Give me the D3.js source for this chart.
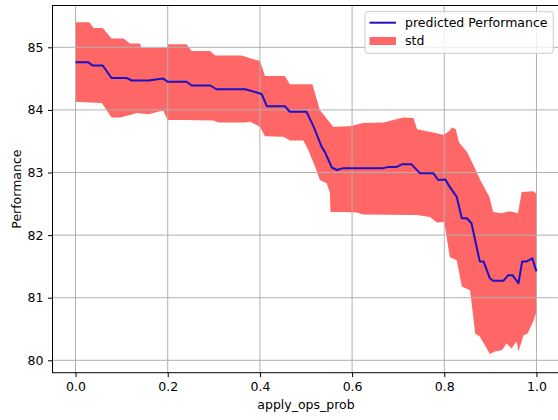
<!DOCTYPE html>
<html lang="en">
<head>
<meta charset="UTF-8">
<title>Performance vs apply_ops_prob</title>
<style>
  body { margin: 0; background: #fff; }
  text { font-family: "DejaVu Sans", sans-serif; font-size: 12.5px; fill: #000; }
  .domain { display: none; }
</style>
</head>
<body>
<svg id="chart" width="558" height="420"></svg>
<script src="https://cdn.jsdelivr.net/npm/d3@7"></script>
<script>

// predicted mean
let meanX = [0.000, 0.028, 0.037, 0.059, 0.078, 0.111, 0.122, 0.158, 0.190, 0.200, 0.241, 0.252, 0.292,
             0.306, 0.368, 0.397, 0.404, 0.415, 0.454, 0.465, 0.501, 0.516, 0.534, 0.541, 0.556, 0.567,
             0.581, 0.668, 0.679, 0.697, 0.708, 0.729, 0.747, 0.776, 0.787, 0.802, 0.812, 0.827, 0.838,
             0.849, 0.859, 0.877, 0.885, 0.899, 0.906, 0.928, 0.939, 0.948, 0.961, 0.969, 0.979, 0.991, 1.000]
let meanY = [84.76, 84.76, 84.71, 84.71, 84.51, 84.51, 84.47, 84.47, 84.50, 84.45, 84.45, 84.39, 84.39,
             84.33, 84.33, 84.27, 84.25, 84.06, 84.06, 83.97, 83.97, 83.74, 83.41, 83.33, 83.08, 83.04,
             83.07, 83.07, 83.09, 83.09, 83.13, 83.13, 82.99, 82.99, 82.88, 82.89, 82.77, 82.61, 82.27,
             82.27, 82.19, 81.58, 81.58, 81.31, 81.27, 81.27, 81.36, 81.36, 81.23, 81.58, 81.58, 81.63, 81.42]

// mean + std
let upperX = [0.000, 0.030, 0.039, 0.059, 0.078, 0.104, 0.118, 0.140, 0.143, 0.198, 0.201, 0.241, 0.252,
              0.292, 0.303, 0.360, 0.400, 0.411, 0.454, 0.465, 0.514, 0.530, 0.559, 0.595, 0.624, 0.668,
              0.711, 0.733, 0.741, 0.781, 0.799, 0.810, 0.817, 0.825, 0.832, 0.839, 0.850, 0.864, 0.878,
              0.898, 0.906, 0.924, 0.942, 0.960, 0.968, 0.993, 1.000]
let upperY = [85.40, 85.40, 85.31, 85.31, 85.14, 85.14, 85.06, 85.06, 84.99, 84.99, 85.05, 85.05, 84.94,
              84.94, 84.87, 84.87, 84.78, 84.54, 84.54, 84.41, 84.41, 84.00, 83.73, 83.74, 83.79, 83.80,
              83.88, 83.87, 83.69, 83.63, 83.60, 83.66, 83.72, 83.69, 83.48, 83.42, 83.32, 83.11, 82.88,
              82.61, 82.37, 82.35, 82.38, 82.35, 82.69, 82.70, 82.66]

// mean - std
let lowerX = [0.000, 0.031, 0.057, 0.078, 0.097, 0.118, 0.133, 0.158, 0.190, 0.200, 0.241, 0.299, 0.310,
              0.368, 0.379, 0.400, 0.411, 0.451, 0.465, 0.494, 0.505, 0.520, 0.530, 0.545, 0.552, 0.553,
              0.580, 0.610, 0.624, 0.740, 0.769, 0.784, 0.800, 0.812, 0.827, 0.838, 0.856, 0.867, 0.877,
              0.888, 0.899, 0.910, 0.925, 0.935, 0.946, 0.957, 0.961, 0.972, 0.981, 0.994, 0.998, 1.000]
let lowerY = [84.13, 84.12, 84.11, 83.88, 83.88, 83.92, 83.95, 83.93, 83.99, 83.84, 83.84, 83.83, 83.80,
              83.80, 83.81, 83.73, 83.58, 83.57, 83.51, 83.51, 83.36, 83.09, 82.88, 82.83, 82.67, 82.37,
              82.37, 82.36, 82.33, 82.32, 82.29, 82.20, 82.21, 81.65, 81.60, 81.18, 81.12, 80.43, 80.38,
              80.24, 80.10, 80.14, 80.16, 80.27, 80.19, 80.30, 80.14, 80.40, 80.43, 80.64, 80.75, 80.18]

let xTicks = [0, 0.2, 0.4, 0.6, 0.8, 1.0]
let yTicks = [80, 81, 82, 83, 84, 85]

let svg = d3.select("#chart")

let plotLeft = 52.5, plotRight = 559.5, plotTop = 5.5, plotBottom = 372.7

let x = d3.scaleLinear().domain([-0.05, 1.05]).range([plotLeft, plotRight])
let y = d3.scaleLinear().domain([79.802, 85.668]).range([plotBottom, plotTop])

let meanPts = meanX.map((v, i) => [v, meanY[i]])
let upperPts = upperX.map((v, i) => [v, upperY[i]])
let lowerPts = lowerX.map((v, i) => [v, lowerY[i]])

let line = d3.line()
    .x(d => x(d[0]))
    .y(d => y(d[1]))

// std band: upper edge forward, lower edge back
svg.append("path")
    .attr("d", line(upperPts.concat(lowerPts.slice().reverse())) + "Z")
    .attr("fill", "#ff6666")
    .attr("stroke", "none")

// grid sits above the band, below the line
svg.append("g").selectAll("line")
    .data(xTicks)
    .join("line")
    .attr("x1", d => x(d)).attr("x2", d => x(d))
    .attr("y1", plotTop).attr("y2", plotBottom)
    .attr("stroke", "#b0b0b0").attr("stroke-width", 1)

svg.append("g").selectAll("line")
    .data(yTicks)
    .join("line")
    .attr("x1", plotLeft).attr("x2", plotRight)
    .attr("y1", d => y(d)).attr("y2", d => y(d))
    .attr("stroke", "#b0b0b0").attr("stroke-width", 1)

svg.append("path")
    .attr("d", line(meanPts))
    .attr("fill", "none")
    .attr("stroke", "#1a12c4")
    .attr("stroke-width", 2)
    .attr("stroke-linejoin", "round")

// axes
svg.append("g")
    .attr("transform", `translate(0,${plotBottom})`)
    .call(d3.axisBottom(x).tickValues(xTicks).tickFormat(d3.format(".1f"))
        .tickSize(4.5).tickSizeOuter(0).tickPadding(4.5))

svg.append("g")
    .attr("transform", `translate(${plotLeft},0)`)
    .call(d3.axisLeft(y).tickValues(yTicks).tickFormat(d3.format("d"))
        .tickSize(4.5).tickSizeOuter(0).tickPadding(4.5))

svg.selectAll(".tick text").attr("font-size", "12.5px").attr("font-family", "DejaVu Sans, sans-serif").attr("fill", "#000")
svg.selectAll(".tick line").attr("stroke", "#000").attr("stroke-width", 1)

// spines
svg.append("rect")
    .attr("x", plotLeft).attr("y", plotTop)
    .attr("width", plotRight - plotLeft).attr("height", plotBottom - plotTop)
    .attr("fill", "none").attr("stroke", "#000").attr("stroke-width", 1)

svg.append("text")
    .attr("x", (plotLeft + plotRight) / 2).attr("y", 409)
    .attr("text-anchor", "middle")
    .text("apply_ops_prob")

svg.append("text")
    .attr("transform", `translate(21,${(plotTop + plotBottom) / 2}) rotate(-90)`)
    .attr("text-anchor", "middle")
    .text("Performance")

// legend
let legend = svg.append("g")
legend.append("rect")
    .attr("x", 365).attr("y", 11.7)
    .attr("width", 188.3).attr("height", 41.6)
    .attr("rx", 3)
    .attr("fill", "#fff").attr("fill-opacity", 0.8)
    .attr("stroke", "#cccccc").attr("stroke-width", 1)

legend.append("line")
    .attr("x1", 369.5).attr("x2", 396)
    .attr("y1", 22.7).attr("y2", 22.7)
    .attr("stroke", "#1a12c4").attr("stroke-width", 2)

legend.append("text")
    .attr("x", 405).attr("y", 22.7).attr("dy", "0.35em")
    .text("predicted Performance")

legend.append("rect")
    .attr("x", 369.5).attr("y", 37)
    .attr("width", 26.5).attr("height", 8)
    .attr("fill", "#ff6666")

legend.append("text")
    .attr("x", 405).attr("y", 41).attr("dy", "0.35em")
    .text("std")

</script>
</body>
</html>
